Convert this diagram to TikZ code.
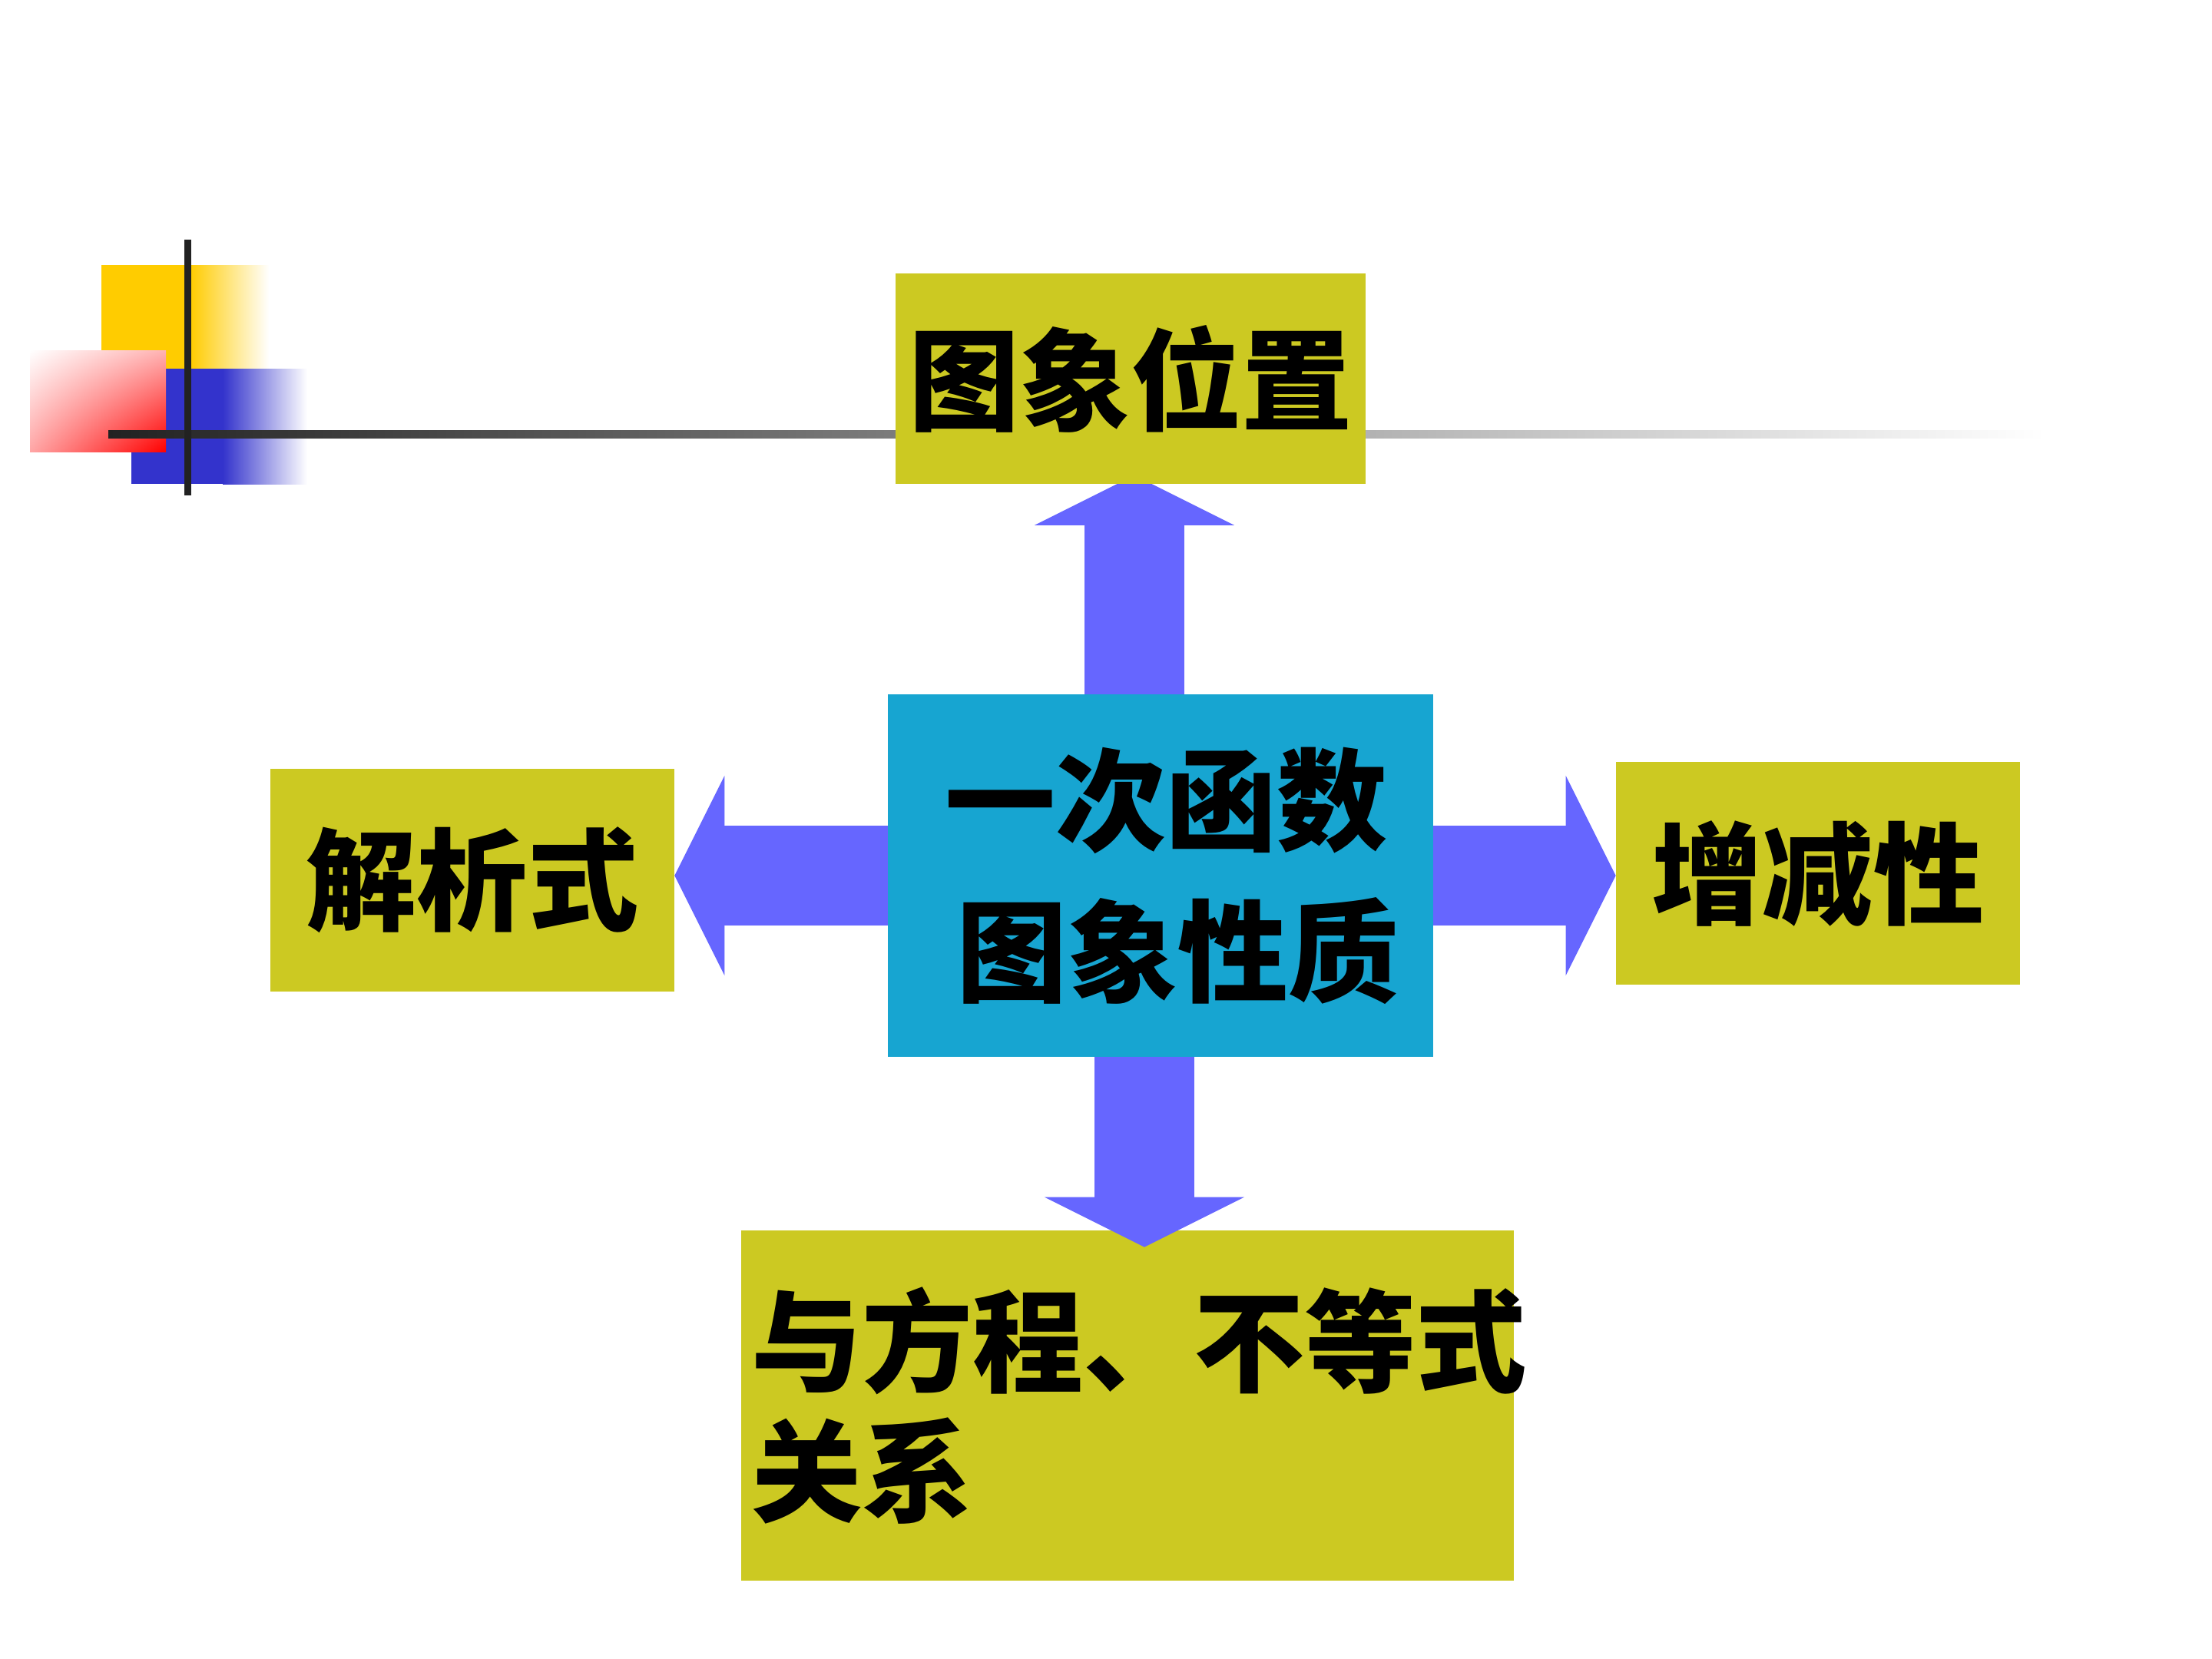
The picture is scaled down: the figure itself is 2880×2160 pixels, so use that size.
\documentclass[tikz,border=0pt]{standalone}
\usepackage{fontspec}
\newfontfamily\cjk{Noto Sans CJK SC}
\usepackage{tikz}
\usetikzlibrary{arrows.meta}
\usetikzlibrary{calc}
\usetikzlibrary{backgrounds}
\usetikzlibrary{shadings}
\definecolor{boxolive}{RGB}{204,201,34}
\definecolor{boxcyan}{RGB}{23,165,209}
\definecolor{arrowblue}{RGB}{102,102,255}
\definecolor{decoyellow}{RGB}{255,204,0}
\definecolor{decoblue}{RGB}{51,51,204}
\definecolor{decored}{RGB}{255,0,0}
\definecolor{decoline}{RGB}{34,34,34}
\tikzset{
topic/.style={ % Sets the properties for each yellow box
fill=boxolive,
inner sep=0pt,
align=center,
font=\cjk\bfseries\fontsize{41}{48}\selectfont},
core/.style={ % The blue box in the middle
topic,
fill=boxcyan,
font=\cjk\bfseries\fontsize{41}{56}\selectfont},
bigarrow/.style={ % Broad arrows from the middle box
draw=arrowblue,
line width=1.3cm,
-{Triangle[width=2.6cm,length=0.65cm,line width=0pt]}}}

\begin{document}
\begin{tikzpicture}[x=0.01cm,y=-0.01cm]
\useasboundingbox (0,0) rectangle (2880,2160);
% corner ornament
\fill[decoyellow] (132,345) rectangle (248,480);
\shade[left color=decoyellow, right color=white] (248,345) rectangle (350,480);
\fill[decoblue] (171,480) rectangle (290,630);
\shade[left color=decoblue, right color=white] (290,480) rectangle (400,630);
\shade[upper left=white, upper right=decored!30, lower left=decored!35, lower right=decored] (39,456) rectangle (216,588);
\shade[left color=decoline, right color=white] (141,560) rectangle (2663,570);
\fill[decoline] (240,312) rectangle (249,645);

\node[topic, minimum width=6.12cm, minimum height=2.74cm] (pos) at (1472,493) {图象位置};
\node[core, minimum width=7.09cm, minimum height=4.71cm] (core) at (1511,1140) {\hspace*{0.15cm}一次函数\\\hspace*{0.45cm}图象性质};
\node[topic, minimum width=5.25cm, minimum height=2.9cm] (expr) at (615,1146) {解析式};
\node[topic, minimum width=5.25cm, minimum height=2.9cm] (mono) at (2367,1137) {增减性};
\node[topic, align=left, inner sep=0.13cm, text width=9.79cm, minimum height=4.55cm] (eqn) at (1468,1830) {与方程、不等式\\关系};

\coordinate (uptip) at ($(pos.south)+(5,-12)$);
\coordinate (downtip) at ($(eqn.north)+(22,22)$);
\begin{scope}[on background layer]
\draw[bigarrow] (uptip |- core.north) -- (uptip);
\end{scope}
\draw[bigarrow] (core.west) -- (expr.east |- core.west);
\draw[bigarrow] (core.east) -- (mono.west |- core.east);
\draw[bigarrow] (downtip |- core.south) -- (downtip);
\end{tikzpicture}
\end{document}
